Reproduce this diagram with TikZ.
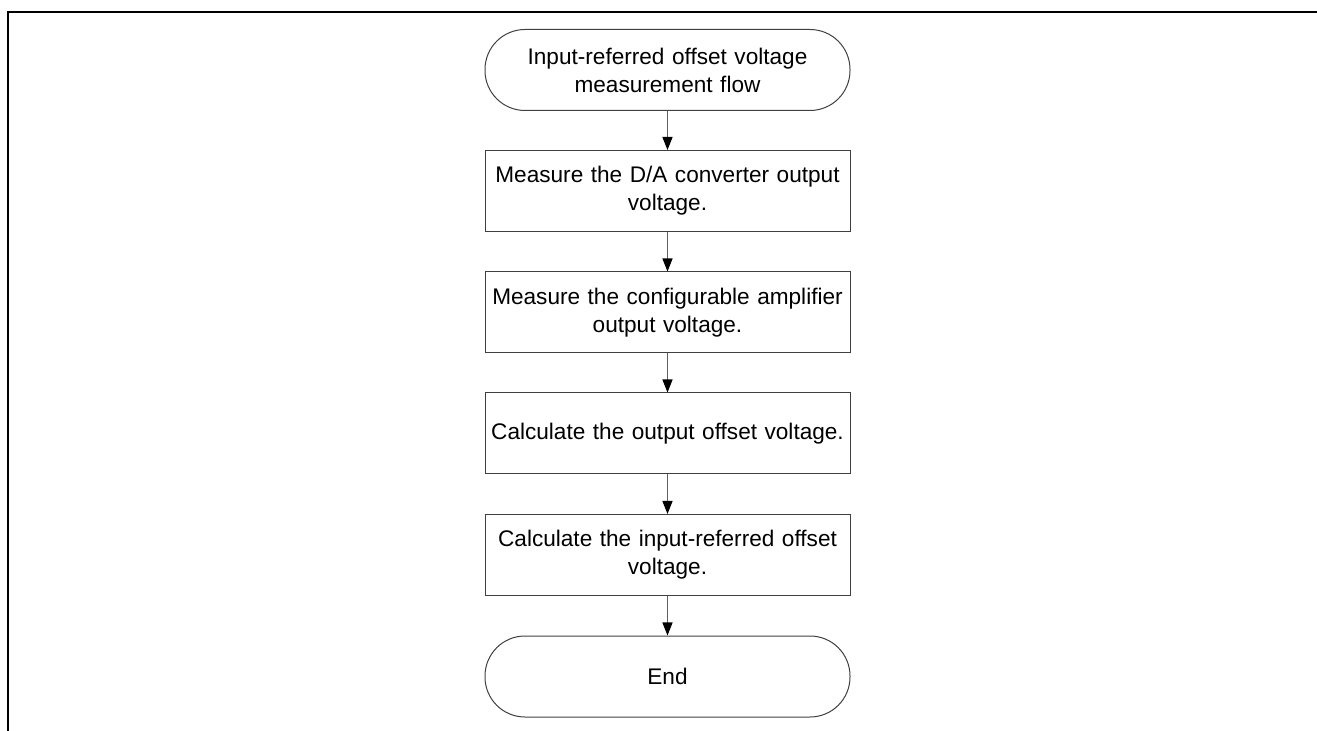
\documentclass[tikz,border=0pt]{standalone}
\usepackage{fontspec}
\setmainfont{Liberation Sans}
\usetikzlibrary{arrows.meta}
\definecolor{boxline}{HTML}{404040}
\definecolor{arrline}{HTML}{606060}
\tikzset{
  stepbox/.style={draw=boxline, line width=0.5pt, rectangle, minimum width=182.5pt, minimum height=40.5pt,
    text width=180pt, inner xsep=1.25pt, align=center, font=\fontsize{11.3pt}{14pt}\selectfont},
  termbox/.style={stepbox, rounded corners=20pt},
  flowarrow/.style={draw=arrline, line width=0.6pt, -{Triangle[length=6.5pt,width=5pt,fill=black,color=black]}},
  frameline/.style={line width=1pt, draw=black}
}
\begin{document}
\begin{tikzpicture}[x=0.5pt,y=-0.5pt]
\useasboundingbox (0,0) rectangle (1317,731);
\draw[frameline] (7,12) -- (1317,12);
\draw[frameline] (8,12) -- (8,731);
\node[termbox] (start) at (667.5,70) {Input-referred offset voltage\\measurement flow};
\node[stepbox] (s1) at (667.5,191) {Measure the D/A converter output\\voltage.};
\node[stepbox] (s2) at (667.5,312.5) {Measure the configurable amplifier\\output voltage.};
\node[stepbox] (s3) at (667.5,433.5) {Calculate the output offset voltage.};
\node[stepbox] (s4) at (667.5,555) {Calculate the input-referred offset\\voltage.};
\node[termbox] (end) at (667.5,676.5) {End};
\draw[flowarrow] (start) -- (s1);
\draw[flowarrow] (s1) -- (s2);
\draw[flowarrow] (s2) -- (s3);
\draw[flowarrow] (s3) -- (s4);
\draw[flowarrow] (s4) -- (end);
\end{tikzpicture}
\end{document}
